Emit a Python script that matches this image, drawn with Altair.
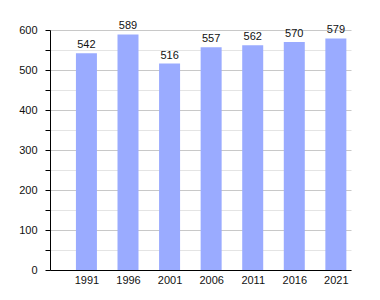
import altair as alt
import pandas as pd

years = [1991, 1996, 2001, 2006, 2011, 2016, 2021]
population = [542, 589, 516, 557, 562, 570, 579]
y_ticks = [0, 50, 100, 150, 200, 250, 300, 350, 400, 450, 500, 550, 600]

df = pd.DataFrame({"year": years, "pop": population})

FONT = "Liberation Sans"
xscale = alt.Scale(domain=[1987.22, 2022.22], nice=False, zero=False)
yscale = alt.Scale(domain=[0, 600], nice=False)

yaxis = alt.Axis(values=y_ticks,
                 labelExpr="datum.value % 100 == 0 ? datum.label : ''",
                 grid=True,
                 gridColor={"condition": {"test": "datum.value % 100 == 0", "value": "#c8c8c8"},
                            "value": "#e4e4e4"},
                 domainColor="black",
                 tickColor="black", tickSize=5, labelFontSize=11,
                 labelFont=FONT, labelColor="#111", labelPadding=8)
xaxis = alt.Axis(values=years, format="d", ticks=False, grid=False,
                 domainColor="black", labelFontSize=11, labelFont=FONT,
                 labelColor="#111", labelPadding=4)

bars = alt.Chart(df).mark_bar(color="#9aabff", size=21).encode(
    x=alt.X("year:Q", scale=xscale, title=None, axis=xaxis),
    y=alt.Y("pop:Q", scale=yscale, title=None, axis=yaxis),
)

labels = alt.Chart(df).mark_text(baseline="bottom", dy=-3, fontSize=11, font=FONT,
                                 color="#111").encode(
    x=alt.X("year:Q", scale=xscale, title=None, axis=xaxis),
    y=alt.Y("pop:Q", scale=yscale, title=None, axis=yaxis),
    text=alt.Text("pop:Q"),
)

chart = alt.layer(bars, labels).properties(
    width=301, height=240,
    autosize=alt.AutoSizeParams(type="none"),
    padding={"left": 50, "top": 30, "right": 29, "bottom": 30},
    background="white",
).configure_view(stroke=None)

chart.save("out.html", embed_options={"renderer": "svg", "actions": False})
